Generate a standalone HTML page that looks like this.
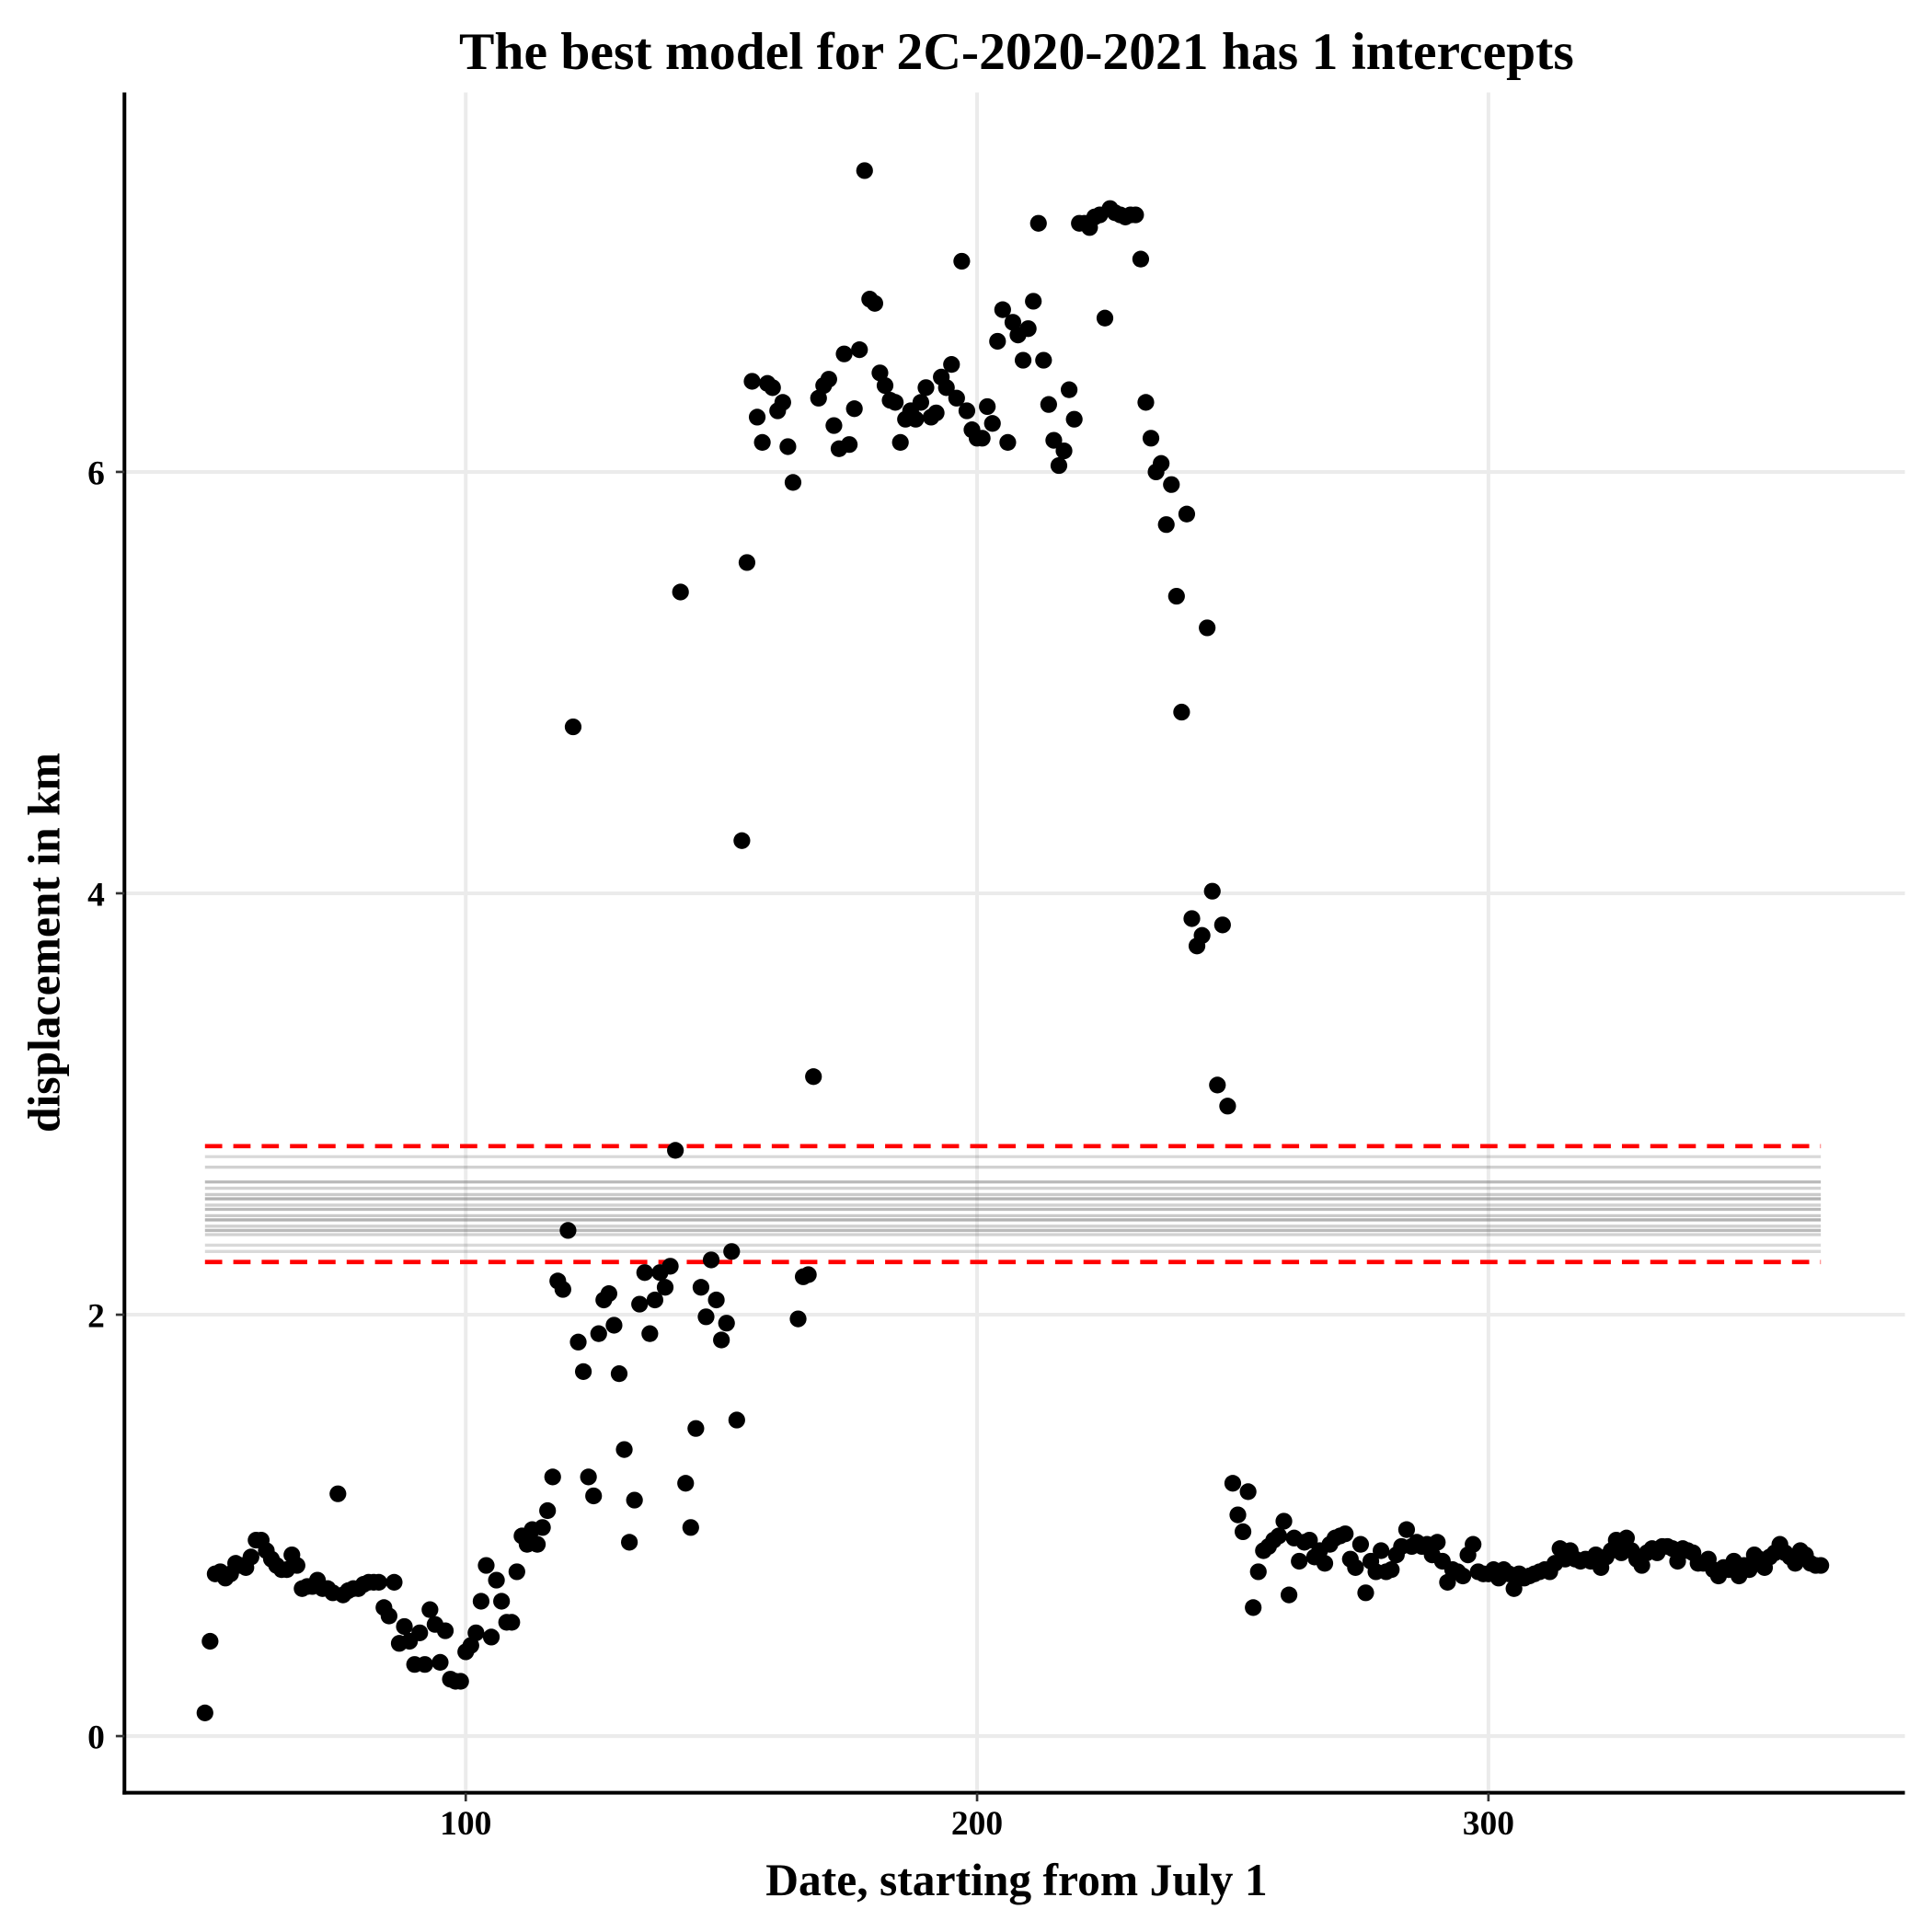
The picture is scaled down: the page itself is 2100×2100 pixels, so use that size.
<!DOCTYPE html>
<html><head><meta charset="utf-8"><style>
html,body{margin:0;padding:0;background:#fff;}
svg{display:block;font-family:"Liberation Serif",serif;font-weight:bold;}
</style></head><body>
<svg id="chart" width="2100" height="2100" viewBox="0 0 1568 1568" xmlns="http://www.w3.org/2000/svg">
<rect width="1568" height="1568" fill="#fff"/>
<g id="grid"></g>
<g id="bands"></g>
<g id="points"></g>
<g id="axes"></g>
<text x="825" y="56" text-anchor="middle" font-size="43">The best model for 2C-2020-2021 has 1 intercepts</text>
<text x="825" y="1538" text-anchor="middle" font-size="37">Date, starting from July 1</text>
<text transform="translate(48,765) rotate(-90)" text-anchor="middle" font-size="37">displacement in km</text>
</svg>
<script>
const xTicks = [100, 200, 300];
const yTicks = [0, 2, 4, 6];
const days = [];
for (let d = 49; d <= 365; d++) days.push(d);
const values = [0.11,0.45,0.77,0.78,0.75,0.77,0.82,0.81,0.80,0.85,0.93,0.93,0.88,0.84,0.81,0.79,0.79,0.86,0.81,0.70,0.71,0.71,0.74,0.70,0.70,0.68,1.15,0.67,0.69,0.70,0.70,0.72,0.73,0.73,0.73,0.61,0.57,0.73,0.44,0.52,0.45,0.34,0.49,0.34,0.60,0.53,0.35,0.50,0.27,0.26,0.26,0.40,0.43,0.49,0.64,0.81,0.47,0.74,0.64,0.54,0.54,0.78,0.95,0.91,0.98,0.91,0.99,1.07,1.23,2.16,2.12,2.40,4.79,1.87,1.73,1.23,1.14,1.91,2.07,2.10,1.95,1.72,1.36,0.92,1.12,2.05,2.20,1.91,2.07,2.20,2.13,2.23,2.78,5.43,1.20,0.99,1.46,2.13,1.99,2.26,2.07,1.88,1.96,2.30,1.50,4.25,5.57,6.43,6.26,6.14,6.42,6.40,6.29,6.33,6.12,5.95,1.98,2.18,2.19,3.13,6.35,6.41,6.44,6.22,6.11,6.56,6.13,6.30,6.58,7.43,6.82,6.80,6.47,6.41,6.34,6.33,6.14,6.25,6.29,6.25,6.33,6.40,6.26,6.28,6.45,6.40,6.51,6.35,7.00,6.29,6.20,6.16,6.16,6.31,6.23,6.62,6.77,6.14,6.71,6.65,6.53,6.68,6.81,7.18,6.53,6.32,6.15,6.03,6.10,6.39,6.25,7.18,7.18,7.16,7.21,7.22,6.73,7.25,7.23,7.22,7.21,7.22,7.22,7.01,6.33,6.16,6.00,6.04,5.75,5.94,5.41,4.86,5.80,3.88,3.75,3.80,5.26,4.01,3.09,3.85,2.99,1.20,1.05,0.97,1.16,0.61,0.78,0.88,0.90,0.93,0.95,1.02,0.67,0.94,0.83,0.92,0.93,0.85,0.88,0.82,0.91,0.94,0.95,0.96,0.84,0.80,0.91,0.68,0.83,0.78,0.88,0.78,0.79,0.86,0.90,0.98,0.90,0.92,0.90,0.91,0.86,0.92,0.83,0.73,0.79,0.78,0.76,0.86,0.91,0.78,0.77,0.77,0.79,0.75,0.79,0.77,0.70,0.77,0.75,0.76,0.77,0.78,0.79,0.78,0.82,0.89,0.84,0.88,0.84,0.83,0.84,0.83,0.86,0.80,0.85,0.88,0.93,0.87,0.94,0.88,0.84,0.81,0.87,0.89,0.87,0.90,0.90,0.89,0.83,0.89,0.88,0.87,0.82,0.82,0.84,0.79,0.76,0.80,0.79,0.83,0.76,0.81,0.79,0.86,0.84,0.80,0.85,0.87,0.91,0.87,0.85,0.82,0.88,0.86,0.82,0.81,0.81];
const interceptLines = [2.75,2.70,2.63,2.60,2.57,2.55,2.52,2.50,2.47,2.45,2.42,2.40,2.38,2.33,2.30];
const interceptOpacity = [0.25,0.3,0.45,0.3,0.35,0.5,0.3,0.45,0.35,0.5,0.3,0.45,0.3,0.25,0.25];
const ciBounds = [2.8, 2.25];
const xRange = [49, 365];

const NS = "http://www.w3.org/2000/svg";
const X = d => 378 + (d - 100) * 4.15;
const Y = v => 1409 - v * 171;
const PL = 101, PR = 1546, PT = 75, PB = 1455;
function mk(tag, attrs, parent) {
  const e = document.createElementNS(NS, tag);
  for (const k in attrs) e.setAttribute(k, attrs[k]);
  parent.appendChild(e); return e;
}
const grid = document.getElementById('grid');
yTicks.forEach(t => {
  const l = mk('line', {x1: PL, x2: PR, y1: Y(t), y2: Y(t), stroke: '#ebebeb', 'stroke-width': 3}, grid);
  
  
});
xTicks.forEach(t => {
  const l = mk('line', {x1: X(t), x2: X(t), y1: PT, y2: PB, stroke: '#ebebeb', 'stroke-width': 3}, grid);
  
  
});
const bands = document.getElementById('bands');
interceptLines.forEach((v, i) => {
  const l = mk('line', {x1: X(xRange[0]), x2: X(xRange[1]), y1: Y(v), y2: Y(v), stroke: '#666', 'stroke-width': 2.5, 'stroke-opacity': interceptOpacity[i]}, bands);
  
  
});
ciBounds.forEach(v => {
  const l = mk('line', {x1: X(xRange[0]), x2: X(xRange[1]), y1: Y(v), y2: Y(v), stroke: '#ff0000', 'stroke-width': 3.5, 'stroke-dasharray': '14 9'}, bands);
  
  
});
const pts = document.getElementById('points');
days.forEach((d, i) => {
  if (values[i] === undefined) return;
  const c = mk('circle', {cx: X(d), cy: Y(values[i]), r: 6.8, fill: '#000'}, pts);
  
  
});
const axes = document.getElementById('axes');
const ya = mk('line', {x1: PL, x2: PL, y1: PT, y2: PB + 1.5, stroke: '#000', 'stroke-width': 3}, axes);


const xa = mk('line', {x1: PL - 1.5, x2: PR, y1: PB, y2: PB, stroke: '#000', 'stroke-width': 3}, axes);


yTicks.forEach(t => {
  const tk = mk('line', {x1: PL - 7, x2: PL, y1: Y(t), y2: Y(t), stroke: '#333', 'stroke-width': 2}, axes);
  
  
  const tx = mk('text', {x: PL - 16, y: Y(t) + 10, 'text-anchor': 'end', 'font-size': 28}, axes);
  tx.textContent = t;
  
  
});
xTicks.forEach(t => {
  const tk = mk('line', {x1: X(t), x2: X(t), y1: PB, y2: PB + 7, stroke: '#333', 'stroke-width': 2}, axes);
  
  
  const tx = mk('text', {x: X(t), y: PB + 34, 'text-anchor': 'middle', 'font-size': 28}, axes);
  tx.textContent = t;
  
  
});
</script>
</body></html>
